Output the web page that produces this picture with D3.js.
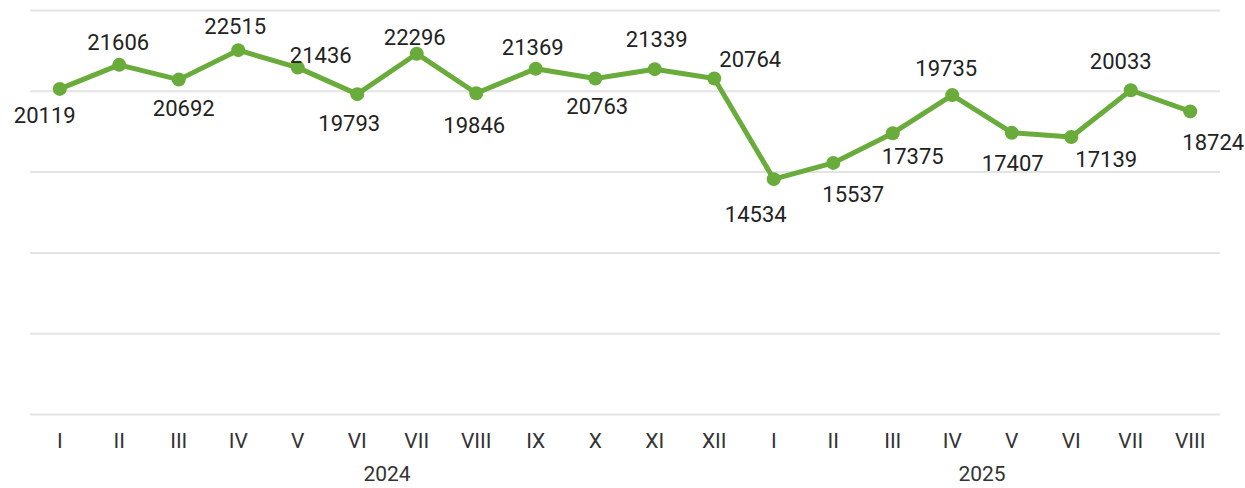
<!DOCTYPE html>
<html>
<head>
<meta charset="utf-8">
<script src="https://unpkg.com/d3@7/dist/d3.min.js"></script>
<style>
  html, body { margin: 0; padding: 0; background: #fff; }
  svg { display: block; font-family: Roboto, "Noto Sans", sans-serif; }
</style>
</head>
<body>
<div class="container"></div>
<script>
// data
const months = ["I","II","III","IV","V","VI","VII","VIII","IX","X","XI","XII",
                "I","II","III","IV","V","VI","VII","VIII"];
const years = ["2024", "2025"];
const yearOfMonth = [0,0,0,0,0,0,0,0,0,0,0,0, 1,1,1,1,1,1,1,1];
const values = [20119, 21606, 20692, 22515, 21436, 19793, 22296, 19846, 21369, 20763,
                21339, 20764, 14534, 15537, 17375, 19735, 17407, 17139, 20033, 18724];
const gridTicks = [0, 5000, 10000, 15000, 20000, 25000];

// where each value label sits relative to its point: [dx, baseline dy]
const labelNudge = [[-15, 34], [-1, -15], [5, 36], [-3, -16], [23, -5], [-8, 37],
                    [-2, -9], [-2, 40], [-3, -14], [2, 36], [2, -22], [36, -11],
                    [-18, 43], [20, 39], [20, 31], [-6, -19], [1, 38], [35, 30],
                    [-10, -21], [23, 39]];

const w = 1245, h = 488;
const padL = 30, padR = 1220, padT = 10, padB = 414;
const green = "#6aac3c";

const svg = d3.select(".container").append("svg")
    .attr("width", w)
    .attr("height", h);

const idx = values.map((d, i) => i);

const x = d3.scaleBand()
    .domain(idx)
    .range([padL, padR]);

const y = d3.scaleLinear()
    .domain([0, 25000])
    .range([padB, padT]);

const cx = i => x(i) + x.bandwidth() / 2;

// horizontal grid
const grid = svg.append("g")
    .attr("transform", "translate(" + padL + ",0)")
    .call(d3.axisLeft(y).tickValues(gridTicks).tickSize(-(padR - padL)).tickFormat(""));
grid.select(".domain").remove();
grid.selectAll(".tick line").attr("stroke", "#e4e4e4").attr("stroke-width", 2);

// month ticks
const xAxis = svg.append("g")
    .attr("transform", "translate(0," + padB + ")")
    .call(d3.axisBottom(x).tickSize(0).tickPadding(0).tickFormat(i => months[i]));
xAxis.select(".domain").remove();
xAxis.selectAll("text")
    .attr("y", 34)
    .attr("dy", 0)
    .attr("fill", "#333")
    .style("font-size", "21px")
    .style("font-family", "Roboto, sans-serif");

// year labels under the month groups
svg.selectAll(".year")
    .data(years)
    .enter()
    .append("text")
    .attr("class", "year")
    .attr("x", (d, k) => {
      const ms = idx.filter(i => yearOfMonth[i] === k);
      return (cx(ms[0]) + cx(ms[ms.length - 1])) / 2;
    })
    .attr("y", 481)
    .attr("text-anchor", "middle")
    .attr("fill", "#333")
    .style("font-size", "21px")
    .text(d => d);

// line
const line = d3.line()
    .x((d, i) => cx(i))
    .y(d => y(d));

svg.append("path")
    .datum(values)
    .attr("d", line)
    .attr("fill", "none")
    .attr("stroke", green)
    .attr("stroke-width", 5)
    .attr("stroke-linejoin", "round");

svg.selectAll(".dot")
    .data(values)
    .enter()
    .append("circle")
    .attr("class", "dot")
    .attr("cx", (d, i) => cx(i))
    .attr("cy", d => y(d))
    .attr("r", 7)
    .attr("fill", green);

svg.selectAll(".lbl")
    .data(values)
    .enter()
    .append("text")
    .attr("class", "lbl")
    .attr("x", (d, i) => cx(i) + labelNudge[i][0])
    .attr("y", (d, i) => y(d) + labelNudge[i][1])
    .attr("text-anchor", "middle")
    .attr("fill", "#222")
    .style("font-size", "22px")
    .text(d => d);
</script>
</body>
</html>
